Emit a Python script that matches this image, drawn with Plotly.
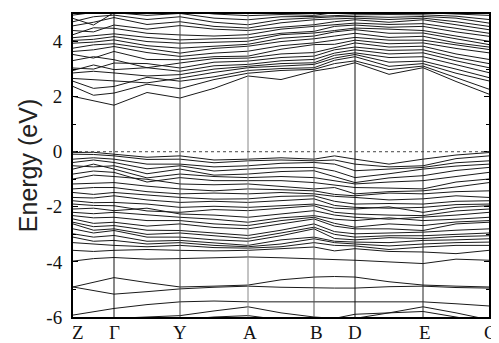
import plotly.graph_objects as go

# path: high-symmetry points interleaved with the mid-points of each segment
k_labels = ["Z", "Γ", "Y", "A", "B", "D", "E", "C"]
k_sym = [0, 41, 107, 175, 241, 282, 350, 416]
k_path = [0, 20.5, 41, 74, 107, 141, 175, 208, 241, 261.5, 282, 316, 350, 383, 416]

y_ticks = [-6, -4, -2, 0, 2, 4]
y_tick_text = ["-6", "-4", "-2", "0", "2", "4"]
y_minor = [-5, -3, -1, 1, 3]

# conduction bands (eV) along Z, ., Γ, ., Y, ., A, ., B, ., D, ., E, ., C
cb01 = [2.01, 1.85, 1.69, 2.15, 1.95, 2.30, 2.75, 2.62, 2.93, 3.05, 3.23, 2.81, 3.05, 2.55, 2.09]
cb02 = [2.37, 2.05, 2.13, 2.45, 2.29, 2.62, 2.85, 2.95, 2.99, 3.20, 3.30, 2.98, 3.11, 2.70, 2.27]
cb03 = [2.56, 2.30, 2.37, 2.70, 2.56, 2.72, 2.95, 3.02, 3.05, 3.32, 3.45, 3.10, 3.20, 2.85, 2.57]
cb04 = [2.66, 2.62, 2.56, 2.50, 2.67, 2.88, 3.05, 3.12, 3.17, 3.40, 3.53, 3.25, 3.29, 3.00, 2.69]
cb05 = [2.86, 2.92, 2.86, 2.75, 2.80, 3.00, 3.10, 3.20, 3.23, 3.50, 3.59, 3.42, 3.45, 3.15, 2.87]
cb06 = [2.95, 3.15, 2.98, 3.05, 2.92, 3.12, 3.17, 3.30, 3.35, 3.58, 3.70, 3.55, 3.59, 3.30, 3.05]
cb07 = [3.04, 3.00, 3.22, 3.20, 3.04, 3.25, 3.29, 3.42, 3.47, 3.70, 3.80, 3.68, 3.70, 3.42, 3.20]
cb08 = [3.31, 3.45, 3.34, 3.05, 3.22, 3.38, 3.40, 3.55, 3.60, 3.78, 3.95, 3.80, 3.83, 3.55, 3.35]
cb09 = [3.53, 3.40, 3.64, 3.35, 3.34, 3.45, 3.47, 3.72, 3.89, 3.90, 4.05, 3.92, 3.95, 3.75, 3.59]
cb10 = [3.64, 3.70, 3.82, 3.60, 3.46, 3.58, 3.65, 3.85, 3.95, 4.05, 4.15, 4.05, 4.05, 3.88, 3.71]
cb11 = [3.76, 3.88, 3.92, 3.75, 3.58, 3.75, 3.83, 4.00, 4.10, 4.20, 4.30, 4.15, 4.19, 3.95, 3.80]
cb12 = [3.94, 3.98, 4.06, 3.85, 3.76, 3.82, 3.90, 4.12, 4.20, 4.35, 4.43, 4.30, 4.31, 4.10, 3.89]
cb13 = [4.04, 4.08, 4.18, 4.00, 3.94, 3.98, 4.01, 4.25, 4.31, 4.40, 4.49, 4.45, 4.40, 4.20, 4.01]
cb14 = [4.14, 4.22, 4.28, 4.15, 4.06, 4.10, 4.13, 4.30, 4.37, 4.55, 4.60, 4.52, 4.55, 4.35, 4.19]
cb15 = [4.25, 4.50, 4.48, 4.30, 4.24, 4.20, 4.25, 4.45, 4.55, 4.62, 4.67, 4.62, 4.65, 4.48, 4.30]
cb16 = [4.40, 4.35, 4.60, 4.45, 4.58, 4.45, 4.40, 4.52, 4.61, 4.72, 4.79, 4.70, 4.79, 4.60, 4.43]
cb17 = [4.57, 4.70, 4.87, 4.62, 4.72, 4.55, 4.49, 4.68, 4.79, 4.82, 4.85, 4.80, 4.85, 4.72, 4.55]
cb18 = [4.72, 4.90, 4.96, 4.80, 4.90, 4.70, 4.61, 4.80, 4.86, 4.90, 4.91, 4.88, 4.91, 4.85, 4.67]
cb19 = [4.84, 4.60, 5.05, 4.95, 5.02, 4.85, 4.79, 4.90, 4.91, 4.95, 4.97, 4.98, 4.97, 4.92, 4.80]
cb20 = [4.96, 5.05, 5.15, 5.10, 5.12, 5.00, 4.94, 4.98, 4.95, 5.05, 5.05, 5.10, 5.05, 5.00, 4.95]

# valence bands (eV) along the same path
vb01 = [-0.03, -0.02, -0.09, -0.20, -0.15, -0.30, -0.27, -0.22, -0.27, -0.15, -0.27, -0.45, -0.27, -0.12, -0.03]
vb02 = [-0.09, -0.10, -0.15, -0.28, -0.27, -0.40, -0.33, -0.30, -0.33, -0.30, -0.45, -0.55, -0.51, -0.25, -0.15]
vb03 = [-0.27, -0.22, -0.27, -0.45, -0.45, -0.55, -0.51, -0.42, -0.39, -0.45, -0.69, -0.62, -0.57, -0.40, -0.33]
vb04 = [-0.39, -0.30, -0.39, -0.62, -0.51, -0.70, -0.63, -0.58, -0.57, -0.70, -0.94, -0.80, -0.63, -0.52, -0.45]
vb05 = [-0.51, -0.55, -0.51, -0.80, -0.63, -0.85, -0.81, -0.72, -0.69, -0.90, -1.12, -0.95, -0.87, -0.68, -0.57]
vb06 = [-0.63, -0.45, -0.63, -0.95, -0.81, -0.90, -0.94, -0.90, -0.94, -1.05, -1.17, -1.10, -1.05, -0.90, -0.75]
vb07 = [-0.81, -0.70, -0.75, -1.10, -0.94, -1.05, -1.05, -1.05, -1.12, -1.20, -1.30, -1.32, -1.35, -1.10, -0.99]
vb08 = [-0.99, -0.85, -0.90, -1.00, -1.17, -1.20, -1.17, -1.25, -1.35, -1.30, -1.53, -1.45, -1.42, -1.28, -1.12]
vb09 = [-1.17, -1.15, -1.12, -1.25, -1.35, -1.42, -1.35, -1.38, -1.42, -1.55, -1.60, -1.50, -1.53, -1.45, -1.42]
vb10 = [-1.35, -1.30, -1.30, -1.45, -1.53, -1.50, -1.53, -1.48, -1.53, -1.62, -1.66, -1.75, -1.71, -1.60, -1.66]
vb11 = [-1.48, -1.55, -1.48, -1.58, -1.66, -1.72, -1.71, -1.62, -1.60, -1.80, -1.90, -1.88, -1.90, -1.80, -1.78]
vb12 = [-1.66, -1.68, -1.60, -1.75, -1.84, -1.80, -1.84, -1.78, -1.71, -1.95, -2.02, -2.05, -2.02, -1.92, -1.90]
vb13 = [-1.78, -1.85, -1.84, -1.90, -2.02, -1.98, -2.02, -1.95, -1.90, -2.05, -2.08, -2.00, -2.20, -2.02, -1.96]
vb14 = [-1.90, -1.95, -1.96, -2.15, -2.20, -2.10, -2.14, -2.05, -1.96, -2.20, -2.26, -2.30, -2.32, -2.15, -2.08]
vb15 = [-2.08, -2.05, -2.14, -2.05, -2.26, -2.30, -2.38, -2.25, -2.14, -2.30, -2.38, -2.45, -2.38, -2.30, -2.20]
vb16 = [-2.20, -2.25, -2.20, -2.30, -2.38, -2.45, -2.56, -2.40, -2.32, -2.45, -2.50, -2.40, -2.50, -2.45, -2.38]
vb17 = [-2.32, -2.40, -2.38, -2.50, -2.50, -2.62, -2.68, -2.50, -2.38, -2.60, -2.74, -2.62, -2.68, -2.55, -2.50]
vb18 = [-2.44, -2.60, -2.56, -2.70, -2.62, -2.75, -2.80, -2.62, -2.44, -2.70, -2.80, -2.80, -2.86, -2.62, -2.56]
vb19 = [-2.56, -2.72, -2.68, -2.85, -2.86, -2.95, -3.04, -2.85, -2.62, -2.90, -2.98, -2.95, -2.92, -2.85, -2.80]
vb20 = [-2.62, -2.85, -2.80, -3.00, -2.95, -3.05, -3.15, -2.95, -2.74, -3.00, -3.10, -3.05, -3.05, -3.00, -2.95]
vb21 = [-2.80, -2.95, -2.86, -3.10, -3.10, -3.20, -3.25, -3.05, -2.80, -3.15, -3.20, -3.12, -3.15, -3.08, -3.05]
vb22 = [-2.98, -3.10, -3.04, -3.25, -3.22, -3.30, -3.40, -3.20, -3.10, -3.25, -3.28, -3.30, -3.22, -3.20, -3.16]
vb23 = [-3.10, -3.25, -3.22, -3.35, -3.30, -3.40, -3.45, -3.35, -3.16, -3.30, -3.35, -3.42, -3.35, -3.30, -3.28]
vb24 = [-3.30, -3.35, -3.40, -3.45, -3.40, -3.48, -3.50, -3.45, -3.30, -3.40, -3.42, -3.55, -3.46, -3.40, -3.40]
vb25 = [-3.58, -3.62, -3.58, -3.55, -3.58, -3.60, -3.58, -3.52, -3.46, -3.60, -3.52, -3.62, -3.64, -3.70, -3.58]
vb26 = [-3.97, -3.88, -3.84, -3.90, -3.88, -3.85, -3.82, -3.85, -3.88, -3.92, -3.94, -4.00, -4.06, -3.90, -3.94]
vb27 = [-4.91, -4.75, -4.57, -4.75, -4.91, -4.88, -4.84, -4.65, -4.55, -4.53, -4.55, -4.72, -4.84, -4.88, -4.91]
vb28 = [-4.91, -5.05, -5.17, -5.08, -4.98, -4.92, -4.88, -4.92, -4.95, -4.95, -4.95, -4.90, -4.88, -4.93, -4.95]
vb29 = [-5.93, -5.82, -5.69, -5.55, -5.45, -5.42, -5.45, -5.45, -5.45, -5.45, -5.45, -5.45, -5.45, -5.52, -5.60]
vb30 = [-6.10, -6.08, -6.05, -6.00, -5.95, -5.78, -5.63, -5.85, -6.00, -6.05, -6.05, -5.85, -5.63, -5.85, -6.10]
vb31 = [-6.30, -6.25, -6.20, -6.15, -6.10, -6.00, -5.95, -6.10, -6.20, -6.05, -5.90, -5.85, -5.80, -6.00, -6.20]

bands = [cb01, cb02, cb03, cb04, cb05, cb06, cb07, cb08, cb09, cb10,
         cb11, cb12, cb13, cb14, cb15, cb16, cb17, cb18, cb19, cb20,
         vb01, vb02, vb03, vb04, vb05, vb06, vb07, vb08, vb09, vb10,
         vb11, vb12, vb13, vb14, vb15, vb16, vb17, vb18, vb19, vb20,
         vb21, vb22, vb23, vb24, vb25, vb26, vb27, vb28, vb29, vb30, vb31]

fig = go.Figure()
for band in bands:
    fig.add_trace(go.Scatter(x=k_path, y=band, mode="lines",
                             line=dict(color="#1a1a1a", width=1),
                             hoverinfo="skip", showlegend=False))

# symmetry-point vertical lines
vcolors = ["#111", "#444", "#888", "#555", "#111", "#222"]
for xk, c in zip(k_sym[1:-1], vcolors):
    fig.add_shape(type="line", x0=xk, x1=xk, y0=0, y1=1, yref="paper", xref="x",
                  line=dict(color=c, width=1), layer="above")
# Fermi level
fig.add_shape(type="line", x0=0, x1=1, xref="paper", y0=0, y1=0, yref="y",
              line=dict(color="#444", width=1, dash="dot"), layer="above")

serif = "Liberation Serif, Times New Roman, Times, serif"
# k-point labels under the axis
label_shift = [5, 0, 0, 2, 2, 0, 2, 1]
for xk, lab, sh in zip(k_sym, k_labels, label_shift):
    fig.add_annotation(x=xk, y=0, xref="x", yref="paper", text=lab, showarrow=False,
                       xanchor="center", yanchor="top", yshift=-3, xshift=sh,
                       font=dict(family=serif, size=19, color="#111"))

# the page body adds an 8 px offset, so the figure is 8 px smaller than the window
fig.update_layout(
    width=491, height=335,
    margin=dict(l=65, r=10, t=4, b=26),
    paper_bgcolor="white", plot_bgcolor="white",
    showlegend=False,
)
fig.update_xaxes(range=[k_sym[0], k_sym[-1]], showticklabels=False, ticks="",
                 showgrid=False, zeroline=False,
                 showline=True, linecolor="black", linewidth=2, mirror=True)
fig.update_yaxes(range=[-6, 5], tickmode="array", tickvals=y_ticks, ticktext=y_tick_text,
                 ticks="inside", ticklen=5, tickcolor="black", showgrid=False, zeroline=False,
                 showline=True, linecolor="black", linewidth=2, mirror="ticks",
                 minor=dict(tickvals=y_minor, ticks="inside", ticklen=3, tickcolor="black"),
                 tickfont=dict(family=serif, size=19, color="#111"),
                 ticklabelstandoff=5,
                 title=dict(text="Energy (eV)", font=dict(family="Liberation Sans, Arial, sans-serif", size=25, color="#222"),
                            standoff=2))

fig.write_html("out.html")
